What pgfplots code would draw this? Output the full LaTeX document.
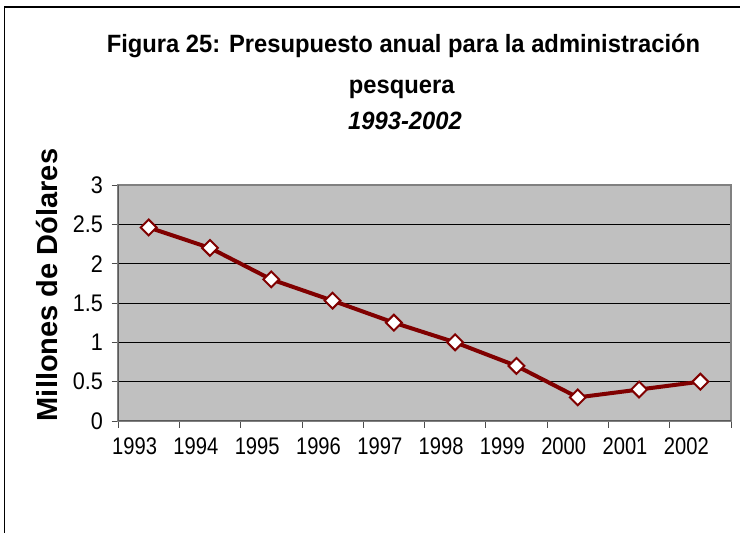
\documentclass[border=0pt]{standalone}
\usepackage{fontspec}
\setmainfont{Liberation Sans}
\usepackage{graphicx}
\usepackage{pgfplots}
\pgfplotsset{compat=1.18}
\definecolor{plotgray}{HTML}{C0C0C0}
\definecolor{framegray}{HTML}{808080}
\definecolor{darkred}{HTML}{800000}
\newcommand{\xl}[1]{\scalebox{0.84}[1]{#1}}

\begin{document}
\begin{tikzpicture}
\useasboundingbox (0,0) rectangle (740bp,533bp);
% outer frame (left and top edges only are visible)
\draw[line width=1.5bp] (4.5bp,0) -- (4.5bp,526bp) -- (740bp,526bp);

% title
\node[font=\fontsize{25bp}{30bp}\selectfont\bfseries, anchor=base] at (403.5bp,480bp)
  {\scalebox{0.95}[1]{Figura 25: Presupuesto anual para la administración}};
\node[font=\fontsize{25bp}{30bp}\selectfont\bfseries, anchor=base] at (401.7bp,439.7bp)
  {\scalebox{0.95}[1]{pesquera}};
\node[font=\fontsize{25bp}{30bp}\selectfont\bfseries\itshape, anchor=base] at (405bp,403bp)
  {\scalebox{0.95}[1]{1993-2002}};

% y label
\node[font=\fontsize{29bp}{34bp}\selectfont\bfseries, anchor=base, rotate=90] at (57bp,248bp)
  {Millones de Dólares};

\begin{axis}[
    at={(118bp,112bp)}, anchor=south west,
    scale only axis, width=613bp, height=236bp,
    xmin=1992.5, xmax=2002.5,
    ymin=0, ymax=3,
    xtick={1992.5,1993.5,1994.5,1995.5,1996.5,1997.5,1998.5,1999.5,2000.5,2001.5,2002.5},
    xticklabels={\xl{1993},\xl{1994},\xl{1995},\xl{1996},\xl{1997},\xl{1998},\xl{1999},\xl{2000},\xl{2001},\xl{2002},{}},
    xticklabel style={xshift=16.6bp, yshift=-7bp},
    ytick={0,0.5,1,1.5,2,2.5,3},
    yticklabel={\scalebox{0.9}[1]{\pgfmathprintnumber{\tick}}},
    yticklabel style={xshift=-5bp},
    /pgf/number format/assume math mode=true,
    ticklabel style={font=\fontsize{24bp}{28bp}\selectfont},
    tick align=outside, tick pos=left,
    major tick length=6.5bp,
    tick style={color=black!70, line width=0.8bp},
    axis background/.style={fill=plotgray},
    axis line style={draw=framegray, line width=1.2bp},
    ymajorgrids=true, xmajorgrids=false,
    grid style={black, line width=0.8bp},
]
\addplot[darkred, line width=4bp, mark=square*, mark size=5.6bp,
    mark options={rotate=45, fill=white, draw=darkred, line width=2bp, solid}]
  coordinates {(1993,2.46) (1994,2.2) (1995,1.8) (1996,1.53) (1997,1.25)
               (1998,1.0) (1999,0.7) (2000,0.3) (2001,0.4) (2002,0.5)};
\draw[black!65, line width=1.2bp] (rel axis cs:0,1) -- (rel axis cs:0,0) -- (rel axis cs:1,0);
\end{axis}
\end{tikzpicture}
\end{document}
